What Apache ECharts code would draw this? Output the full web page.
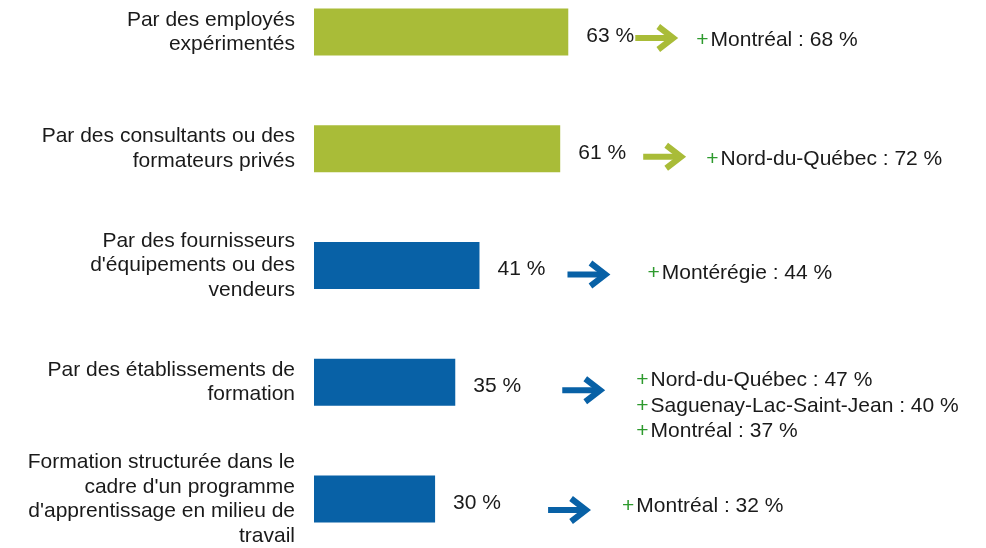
<!DOCTYPE html>
<html>
<head>
<meta charset="utf-8">
<script src="https://cdn.jsdelivr.net/npm/echarts@6/dist/echarts.min.js"></script>
<style>
  html, body { margin: 0; padding: 0; background: #fff; }
  #chart { width: 986px; height: 548px; }
</style>
</head>
<body>
<div id="chart"></div>
<script>
const categories = [
  'Par des employés\nexpérimentés',
  'Par des consultants ou des\nformateurs privés',
  'Par des fournisseurs\nd\'équipements ou des\nvendeurs',
  'Par des établissements de\nformation',
  'Formation structurée dans le\ncadre d\'un programme\nd\'apprentissage en milieu de\ntravail',
];
const values = [63, 61, 41, 35, 30];
const regions = [
  ['Montréal : 68 %'],
  ['Nord-du-Québec : 72 %'],
  ['Montérégie : 44 %'],
  ['Nord-du-Québec : 47 %', 'Saguenay-Lac-Saint-Jean : 40 %', 'Montréal : 37 %'],
  ['Montréal : 32 %'],
];

// annotation layout (px, from bar end / bar centre)
const arrowDx = [67, 83, 88, 107, 113];
const arrowDy = [6, 8, 9, 8, 11];
const noteDx = [128, 146, 168, 181, 187];
const noteDy = [8, 10, 8, -2, 7];

const GREEN = '#A9BC38';
const BLUE = '#0861A6';
const PLUS = '#2E9A2E';
const TEXT = '#1a1a1a';
const FONT = "'Liberation Sans', Arial, sans-serif";
const colorOf = (i) => (i < 2 ? GREEN : BLUE);

const chart = echarts.init(document.getElementById('chart'));

function renderNote(params, api) {
  const i = api.value(1);
  const end = api.coord([api.value(0), i]);
  const c = colorOf(i);
  const ax = end[0] + arrowDx[i];
  const ay = end[1] + arrowDy[i];
  const children = [
    {
      type: 'polyline',
      shape: { points: [[ax, ay], [ax + 35, ay]] },
      style: { stroke: c, lineWidth: 6, fill: null },
    },
    {
      type: 'polyline',
      shape: { points: [[ax + 23, ay - 11.5], [ax + 38, ay], [ax + 23, ay + 11.5]] },
      style: { stroke: c, lineWidth: 6, fill: null, lineJoin: 'miter' },
    },
  ];
  regions[i].forEach((line, k) => {
    children.push({
      type: 'text',
      x: end[0] + noteDx[i],
      y: end[1] + noteDy[i] + k * 25.5,
      style: {
        text: '{p|+}' + line,
        fill: TEXT,
        font: '21px ' + FONT,
        verticalAlign: 'middle',
        rich: { p: { fill: PLUS, font: '21px ' + FONT, padding: [0, 2, 0, 0] } },
      },
    });
  });
  return { type: 'group', children };
}

chart.setOption({
  animation: false,
  backgroundColor: '#fff',
  grid: { left: 314, right: 2, top: 32, bottom: 49, containLabel: false },
  xAxis: {
    type: 'value',
    min: 0,
    max: 166,
    show: false,
  },
  yAxis: {
    type: 'category',
    inverse: true,
    boundaryGap: false,
    data: categories,
    axisLine: { show: false },
    axisTick: { show: false },
    axisLabel: {
      margin: 19,
      color: TEXT,
      fontSize: 21,
      lineHeight: 24.5,
      fontFamily: FONT,
      align: 'right',
    },
  },
  series: [
    {
      type: 'bar',
      barWidth: 47,
      data: values.map((v, i) => ({ value: v, itemStyle: { color: colorOf(i) } })),
      label: {
        show: true,
        position: 'right',
        distance: 18,
        offset: [0, 4],
        formatter: '{c} %',
        color: TEXT,
        fontSize: 21,
        fontFamily: FONT,
      },
    },
    {
      type: 'custom',
      clip: false,
      silent: true,
      renderItem: renderNote,
      data: values.map((v, i) => [v, i]),
      z: 5,
    },
  ],
});
</script>
</body>
</html>
